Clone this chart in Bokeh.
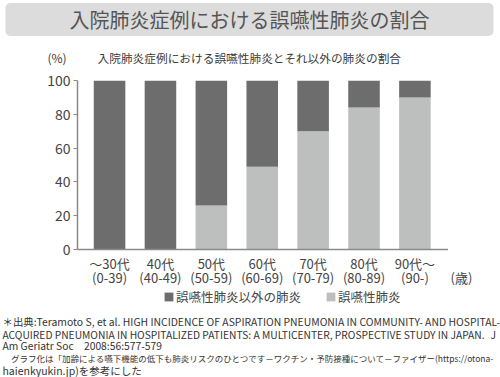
from bokeh.plotting import figure
from bokeh.models import ColumnDataSource, Label, Legend, LegendItem, Range1d, FixedTicker
from bokeh.layouts import column, row
from bokeh.embed import file_html
from bokeh.resources import INLINE

# ---- data ----
categories = ["～30代\n(0-39)", "40代\n(40-49)", "50代\n(50-59)", "60代\n(60-69)",
              "70代\n(70-79)", "80代\n(80-89)", "90代～\n(90-)"]
aspiration = [0, 0, 26, 49, 70, 84, 90]          # 誤嚥性肺炎 (%)
other = [100 - v for v in aspiration]             # 誤嚥性肺炎以外の肺炎 (%)
y_ticks = [0, 20, 40, 60, 80, 100]
series_names = ["誤嚥性肺炎以外の肺炎", "誤嚥性肺炎"]
title_text = "入院肺炎症例における誤嚥性肺炎の割合"
subtitle_text = "入院肺炎症例における誤嚥性肺炎とそれ以外の肺炎の割合"
unit_y = "(%)"
unit_x = " \n(歳)"
footnotes = [
    "＊出典:Teramoto S, et al. HIGH INCIDENCE OF ASPIRATION PNEUMONIA IN COMMUNITY- AND HOSPITAL-",
    "ACQUIRED PNEUMONIA IN HOSPITALIZED PATIENTS: A MULTICENTER, PROSPECTIVE STUDY IN JAPAN.",
    "Am Geriatr Soc　2008:56:577-579",
    "　グラフ化は「加齢による嚥下機能の低下も肺炎リスクのひとつです－ワクチン・予防接種について－ファイザー(https://otona-",
    "haienkyukin.jp)を参考にした",
]
footnote_sizes = ["10.4px", "10.25px", "10.3px", "8.5px", "10.5px"]

FONT = "Noto Sans CJK JP"
DARK = "#6d6d6d"
LIGHT = "#bdbfbe"
TXT = "#3a3a3a"

W = 500
HEAD_H = 66          # canvas rows 0..66
CHART_TOP, CHART_BOT = 66, 290
FOOT_TOP, FOOT_BOT = 290, 377
FL, FR, FT, FB = 77, 448, 80, 249   # plot frame edges (canvas px)


def text_panel(w, h):
    f = figure(width=w, height=h, output_backend="svg", toolbar_location=None,
               x_range=Range1d(0, w), y_range=Range1d(h, 0),
               min_border=0, min_border_left=0, min_border_right=0,
               min_border_top=0, min_border_bottom=0)
    f.axis.visible = False
    f.grid.visible = False
    f.outline_line_color = None
    f.background_fill_color = "white"
    f.border_fill_color = "white"
    return f


def lab(f, text, x, y, size, align="left", color=TXT, **kw):
    f.add_layout(Label(x=x, y=y, text=text, text_font=FONT, text_font_size=size,
                       text_color=color, text_align=align, text_baseline="middle", **kw))


# ---------- header ----------
head = text_panel(W, HEAD_H)
lab(head, title_text, 249, 19, "20px", align="center", color="#555555",
    background_fill_color="#dcdcdc", padding=(64, 64, 2, 2), border_radius=5)
lab(head, unit_y, 47, 57, "12px")
lab(head, subtitle_text, 97, 57, "11.7px")


def style_x_axis(ax, size="13px"):
    ax.axis_line_color = "#8a8a8a"
    ax.axis_line_width = 1.5
    ax.major_tick_line_color = None
    ax.minor_tick_line_color = None
    ax.major_label_text_font = FONT
    ax.major_label_text_font_size = size
    ax.major_label_text_color = "#444444"
    ax.major_label_text_line_height = 0.75
    ax.major_label_standoff = -2


# ---------- chart ----------
p = figure(width=FR, height=CHART_BOT - CHART_TOP, output_backend="svg",
           toolbar_location=None,
           x_range=Range1d(-0.63, 6.66), y_range=Range1d(0, 100),
           min_border_left=FL, min_border_right=0,
           min_border_top=FT - CHART_TOP, min_border_bottom=CHART_BOT - FB)
p.outline_line_color = None
p.grid.visible = False
p.background_fill_color = "white"
p.border_fill_color = "white"

xs = list(range(len(categories)))
src = ColumnDataSource(dict(x=xs, asp=aspiration, oth=other,
                            total=[a + o for a, o in zip(aspiration, other)]))
p.vbar(x="x", bottom=0, top="asp", width=0.62, source=src,
       fill_color=LIGHT, line_color=None)
p.vbar(x="x", bottom="asp", top="total", width=0.62, source=src,
       fill_color=DARK, line_color=None)

ya = p.yaxis[0]
ya.ticker = FixedTicker(ticks=y_ticks)
ya.axis_line_color = "#8a8a8a"
ya.axis_line_width = 1.5
ya.major_tick_line_color = "#8a8a8a"
ya.major_tick_out = 4
ya.major_tick_in = 0
ya.minor_tick_line_color = None
ya.major_label_text_font = FONT
ya.major_label_text_font_size = "14px"
ya.major_label_text_color = "#444444"
ya.major_label_standoff = 3

xa = p.xaxis[0]
xa.ticker = FixedTicker(ticks=xs)
xa.major_label_overrides = {i: c for i, c in enumerate(categories)}
style_x_axis(xa)

# side panel: same frame rows as the chart; its (hidden-line) axis carries the age unit
side = figure(width=W - FR, height=CHART_BOT - CHART_TOP, output_backend="svg",
              toolbar_location=None, x_range=Range1d(0, W - FR), y_range=Range1d(0, 100),
              min_border_left=0, min_border_right=0,
              min_border_top=FT - CHART_TOP, min_border_bottom=CHART_BOT - FB)
side.outline_line_color = None
side.grid.visible = False
side.yaxis.visible = False
side.background_fill_color = "white"
side.border_fill_color = "white"
sx = side.xaxis[0]
sx.ticker = FixedTicker(ticks=[13])
sx.major_label_overrides = {13: unit_x}
style_x_axis(sx)
sx.axis_line_color = None

# ---------- footer (legend + source) ----------
foot = text_panel(W, FOOT_BOT - FOOT_TOP)
nan = float("nan")
proxy = ColumnDataSource(dict(x=[nan], top=[nan]))
g_dark = foot.vbar(x="x", top="top", width=1, source=proxy, fill_color=DARK, line_color=None)
g_light = foot.vbar(x="x", top="top", width=1, source=proxy, fill_color=LIGHT, line_color=None)
fh = FOOT_BOT - FOOT_TOP
legend = Legend(items=[LegendItem(label=series_names[0], renderers=[g_dark]),
                       LegendItem(label=series_names[1], renderers=[g_light])],
                orientation="horizontal", location=(163, fh - 16),
                glyph_width=11, glyph_height=11, label_height=14,
                label_text_font=FONT, label_text_font_size="12.5px",
                label_text_color="#444444", label_standoff=2, spacing=24,
                padding=0, margin=0, border_line_color=None, background_fill_alpha=0)
foot.add_layout(legend)

foot_y = [321, 334, 345, 357, 370]
for t, cy, fs in zip(footnotes, foot_y, footnote_sizes):
    lab(foot, t, 2, cy - FOOT_TOP, fs, color="#333333")
lab(foot, "J", 490, 334 - FOOT_TOP, "10.25px", color="#333333")

layout = column(head, row(p, side), foot)
open("out.html", "w").write(file_html(layout, INLINE))
